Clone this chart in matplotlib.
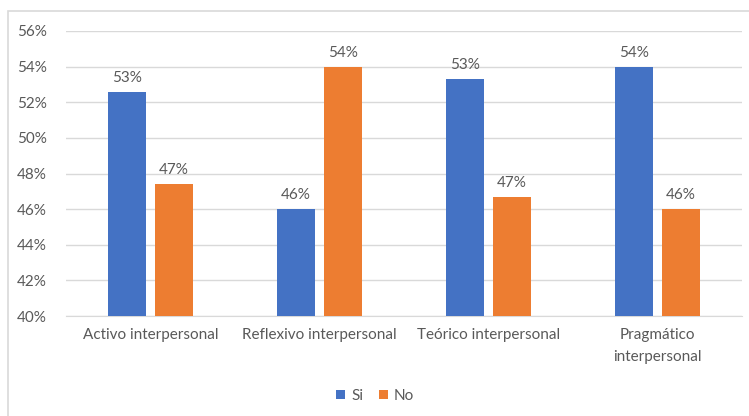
import matplotlib.pyplot as plt
from matplotlib.patches import Rectangle
from matplotlib.ticker import PercentFormatter
import numpy as np

# Estilos de aprendizaje interpersonal: porcentaje de respuestas Si / No
categorias = ["Activo interpersonal", "Reflexivo interpersonal",
              "Teórico interpersonal", "Pragmático\ninterpersonal"]
si = [52.6, 46.0, 53.3, 54.0]
no = [47.4, 54.0, 46.7, 46.0]

AZUL = "#4472C4"
NARANJA = "#ED7D31"
GRIS_TEXTO = "#595959"
GRIS_LINEA = "#D9D9D9"

plt.rcParams["font.family"] = ["Lato", "DejaVu Sans"]

fig = plt.figure(figsize=(7.49, 4.16), dpi=100)
ax = fig.add_axes([66 / 749, 1 - 316 / 416, 676 / 749, 285 / 416])

x = np.arange(len(categorias))
ancho = 0.225
desp = 0.139

b1 = ax.bar(x - desp, si, ancho, color=AZUL, label="Si", zorder=3)
b2 = ax.bar(x + desp, no, ancho, color=NARANJA, label="No", zorder=3)

for barras in (b1, b2):
    for b in barras:
        v = b.get_height()
        ax.annotate(f"{round(v)}%", (b.get_x() + b.get_width() / 2, v),
                    xytext=(0, 5), textcoords="offset points",
                    ha="center", va="bottom", fontsize=11, color=GRIS_TEXTO)

ax.set_ylim(40, 56)
ax.set_yticks(np.arange(40, 57, 2))
ax.yaxis.set_major_formatter(PercentFormatter(decimals=0))
ax.set_xlim(-0.5, len(categorias) - 0.5)
ax.set_xticks(x)
ax.set_xticklabels(categorias, linespacing=1.7)

ax.grid(axis="y", color=GRIS_LINEA, linewidth=1, zorder=0)
for s in ("top", "right", "left"):
    ax.spines[s].set_visible(False)
ax.spines["bottom"].set_color(GRIS_LINEA)
ax.tick_params(axis="both", length=0, labelsize=11, colors=GRIS_TEXTO)
ax.tick_params(axis="x", pad=9)
ax.tick_params(axis="y", pad=14)

ax.legend(loc="center", bbox_to_anchor=(375 / 749, 1 - 396 / 416),
          bbox_transform=fig.transFigure, ncol=2, frameon=False,
          fontsize=11, labelcolor=GRIS_TEXTO, handlelength=0.6,
          handleheight=0.6, handletextpad=0.4, columnspacing=1.0)

# marco exterior del gráfico
fig.patches.append(Rectangle((8 / 749, -0.1), 2, 1.1 - 11 / 416,
                             transform=fig.transFigure, fill=False,
                             edgecolor=GRIS_LINEA, linewidth=1.2))

fig.savefig("out.png", dpi=100)
